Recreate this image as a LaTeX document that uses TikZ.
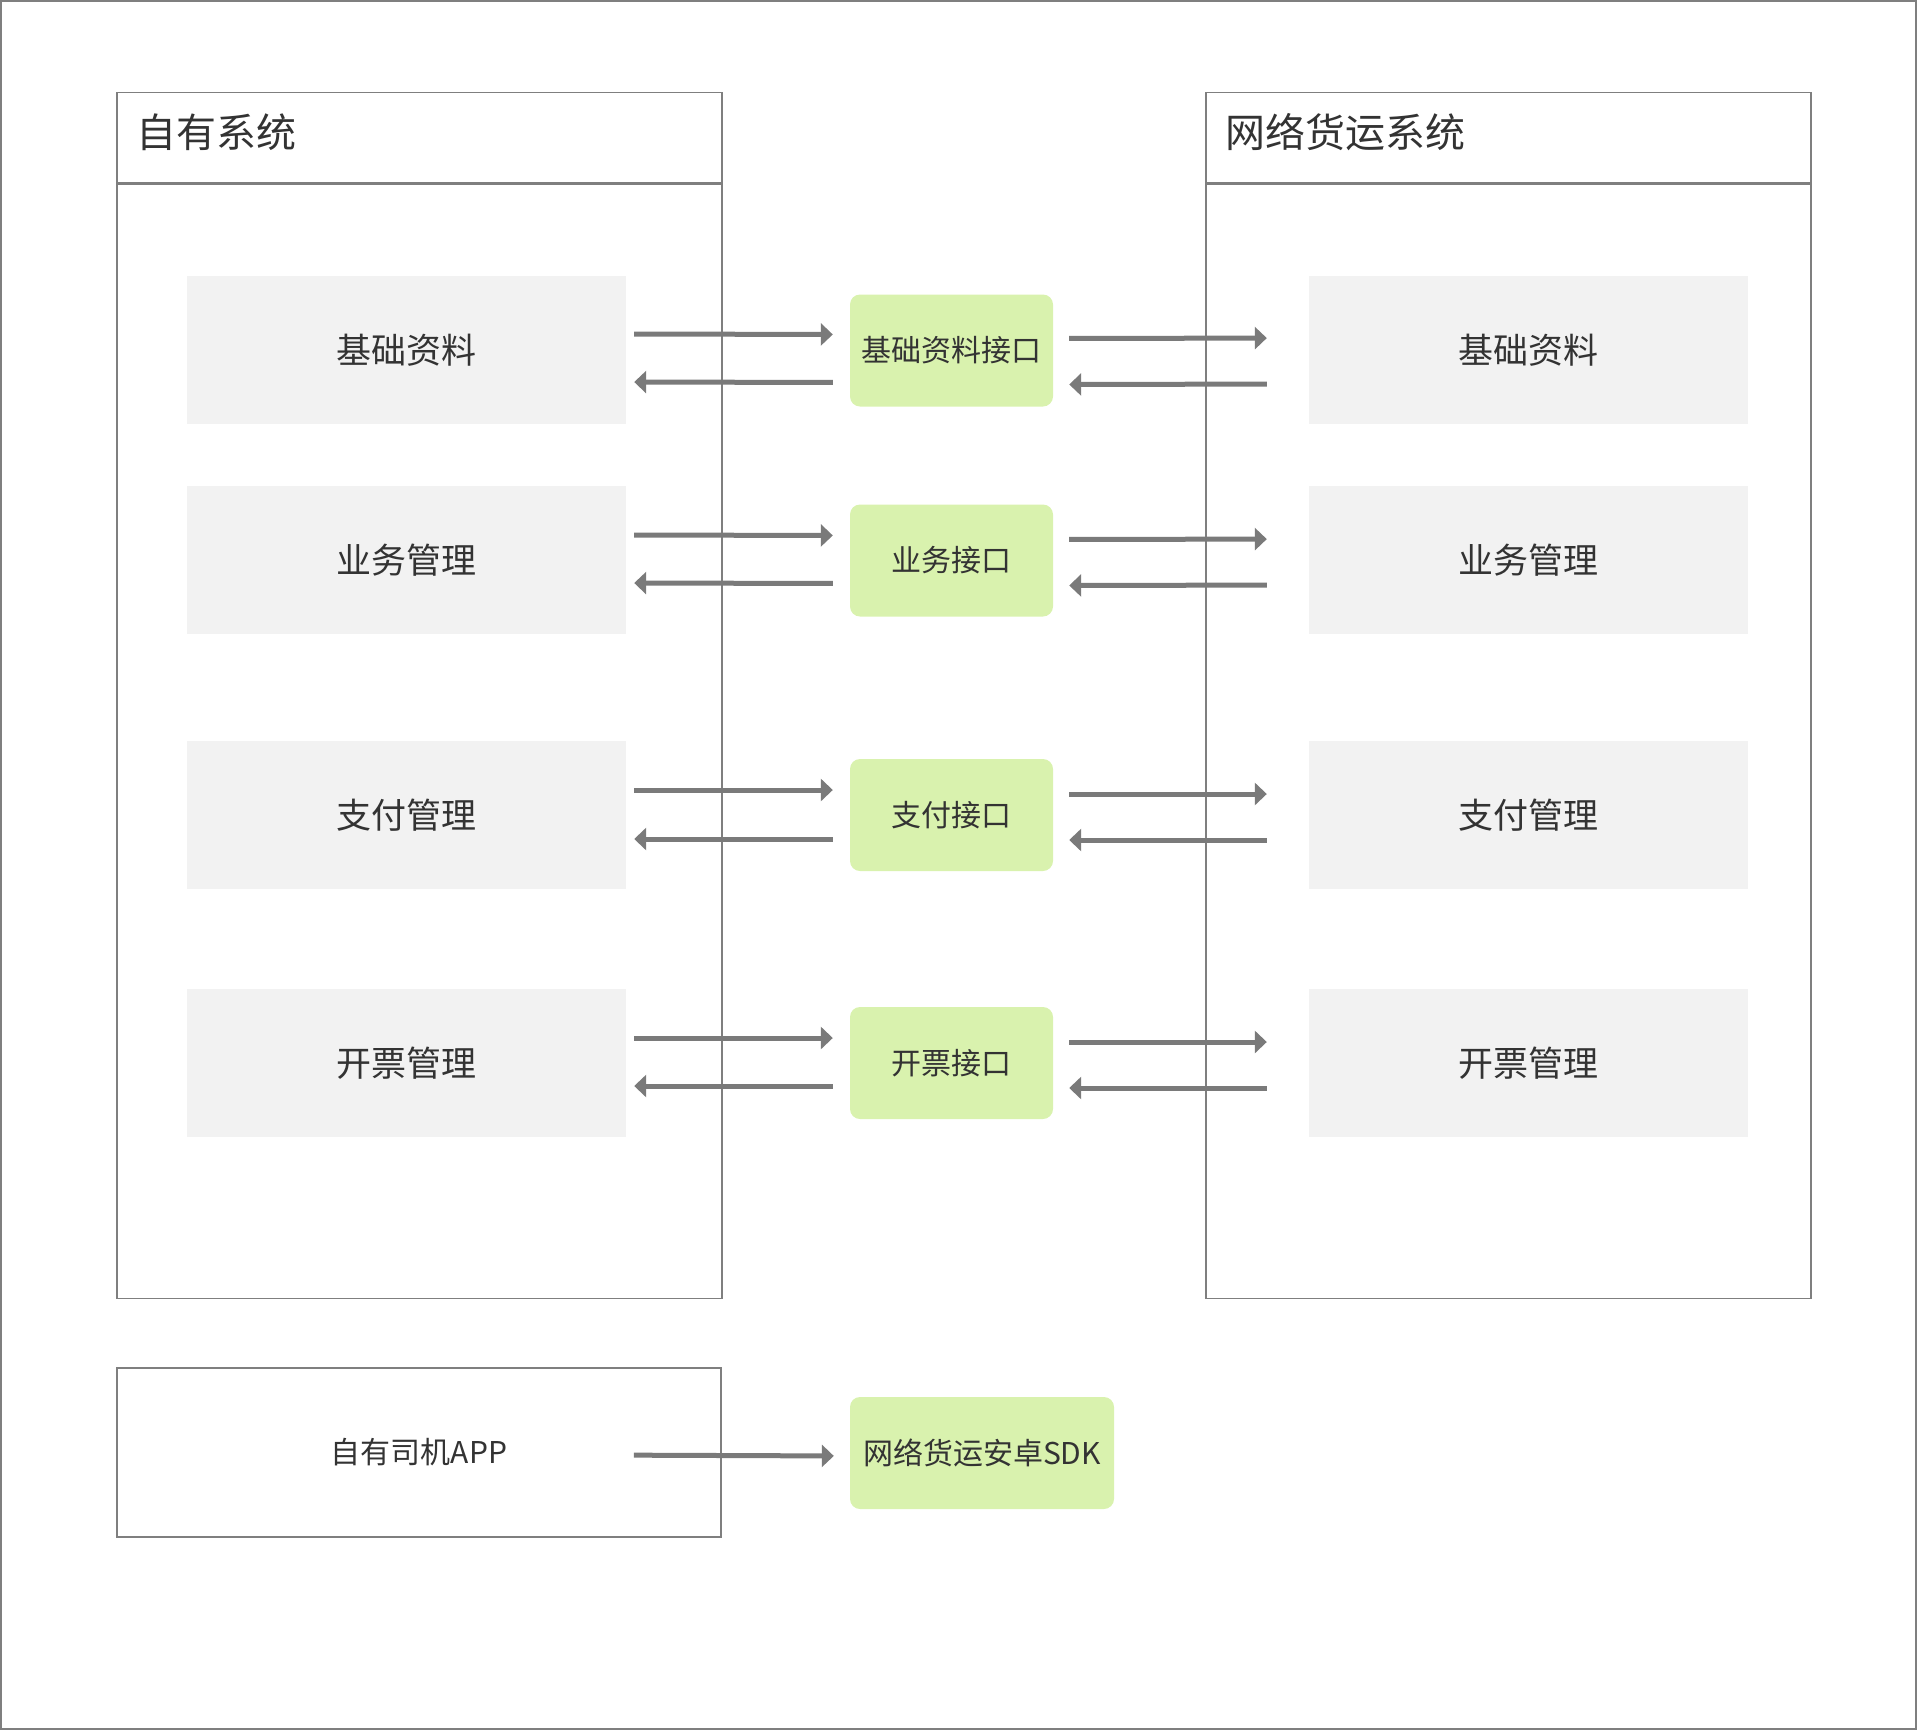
\documentclass[tikz,border=0pt]{standalone}
\usepackage{xcolor}
\usepackage{fontspec}
\setmainfont{Noto Sans CJK SC}
\usepackage{tikz}
\usetikzlibrary{
    arrows.meta,
    calc,
    positioning
}
\definecolor{ink}    {HTML}{333333}
\definecolor{frame}  {HTML}{7F7F7F}
\definecolor{flowc}  {HTML}{7A7A7A}
\definecolor{modbg}  {HTML}{F2F2F2}
\definecolor{apibg}  {HTML}{D9F2AE}

\begin{document}
\begin{tikzpicture}[
    x=1pt, y=-1pt,
    line cap=butt, line join=miter,
    %% --- semantic styles ---
    sysbox/.style    = {rectangle, draw=frame, fill=white, line width=1.5pt,
                        minimum width=605pt, inner sep=0pt},
    syshead/.style   = {sysbox, minimum height=90pt, inner xsep=20pt,
                        text width=565pt, align=left, text=ink,
                        text height=34pt, text depth=14pt,
                        font=\fontsize{40}{48}\selectfont},
    modbox/.style    = {rectangle, fill=modbg, minimum width=439pt,
                        minimum height=148pt, text=ink,
                        font=\fontsize{35}{42}\selectfont},
    apibox/.style    = {rectangle, fill=apibg, rounded corners=10pt,
                        minimum width=203pt, minimum height=112pt,
                        text=ink, font=\fontsize{30}{36}\selectfont},
    appbox/.style    = {rectangle, draw=frame, fill=white, line width=1.5pt,
                        minimum width=604pt, minimum height=169pt,
                        text=ink, font=\fontsize{30}{36}\selectfont},
    flow/.style      = {-{Triangle[length=12pt, width=22pt]}, draw=flowc,
                        line width=5pt}
]
\useasboundingbox (0,0) rectangle (1917,1730);
\draw[frame, line width=2pt] (1,1) rectangle (1916,1729);

%% =====================================================
%% Own system (left)
%% =====================================================
\node[syshead, anchor=north west] (OWNhead) at (116, 91.5) {自有系统};
\node[sysbox, anchor=north west, minimum height=1114.5pt] (OWNbody)
    at (OWNhead.south west) {};

\node[modbox] (OWN1) at (406.5, 350)  {基础资料};
\node[modbox] (OWN2) at (406.5, 560)  {业务管理};
\node[modbox] (OWN3) at (406.5, 815)  {支付管理};
\node[modbox] (OWN4) at (406.5, 1063) {开票管理};

%% =====================================================
%% Interfaces (middle)
%% =====================================================
\node[apibox] (API1) at (951.5, 350.5) {基础资料接口};
\node[apibox] (API2) at (951.5, 560.5) {业务接口};
\node[apibox] (API3) at (951.5, 815)   {支付接口};
\node[apibox] (API4) at (951.5, 1063)  {开票接口};

%% =====================================================
%% Freight platform (right)
%% =====================================================
\node[syshead, anchor=north west] (NEThead) at (1205, 91.5) {网络货运系统};
\node[sysbox, anchor=north west, minimum height=1114.5pt] (NETbody)
    at (NEThead.south west) {};

\node[modbox] (NET1) at (1528.5, 350)  {基础资料};
\node[modbox] (NET2) at (1528.5, 560)  {业务管理};
\node[modbox] (NET3) at (1528.5, 815)  {支付管理};
\node[modbox] (NET4) at (1528.5, 1063) {开票管理};

% two-way flows, per row: own <-> api <-> net
\foreach \i/\a/\b/\c/\d in {1/-16/32/-12/34, 2/-25/23/-21/25,
                            3/-25/24/-21/25, 4/-25/23/-21/25} {
    \draw[flow, shorten <=8pt, shorten >=17pt]
        ($(OWN\i.east)+(0,\a)$) -- ($(API\i.west)+(0,\a)$);
    \draw[flow, shorten <=17pt, shorten >=8pt]
        ($(API\i.west)+(0,\b)$) -- ($(OWN\i.east)+(0,\b)$);
    \draw[flow, shorten <=16pt, shorten >=42pt]
        ($(API\i.east)+(0,\c)$) -- ($(NET\i.west)+(0,\c)$);
    \draw[flow, shorten <=42pt, shorten >=16pt]
        ($(NET\i.west)+(0,\d)$) -- ($(API\i.east)+(0,\d)$);
}

%% =====================================================
%% Driver app -> SDK
%% =====================================================
\node[appbox] (APP) at (419, 1452.5) {自有司机APP};
\node[apibox, minimum width=264pt] (SDK) at (982, 1453) {网络货运安卓SDK};
\draw[flow, shorten <=-88pt, shorten >=16pt]
    ($(APP.east)+(0,3)$) -- ($(SDK.west)+(0,3)$);

\end{tikzpicture}
\end{document}
